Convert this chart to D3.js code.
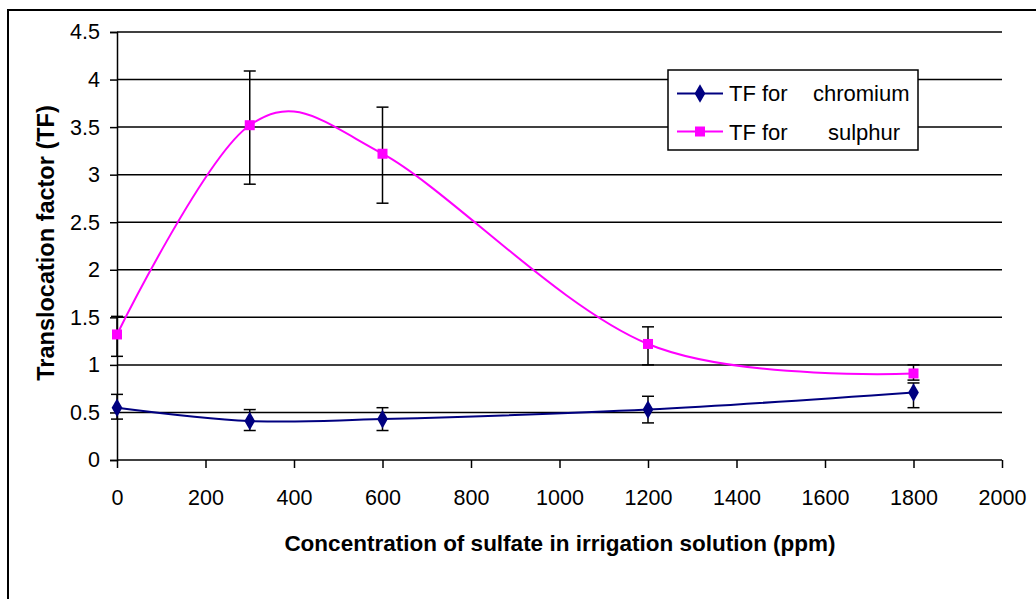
<!DOCTYPE html>
<html><head><meta charset="utf-8">
<script src="https://cdn.jsdelivr.net/npm/d3@7"></script>
<style>body{margin:0;background:#fff;} svg{display:block;font-family:Arial,"Liberation Sans",sans-serif;}</style>
</head><body><svg id="c" width="1036" height="599"></svg>
<script>
const concentrations = [0, 300, 600, 1200, 1800];
const chromium = [0.55, 0.41, 0.43, 0.53, 0.71];
const chromiumHi = [0.69, 0.53, 0.55, 0.67, 0.81];
const chromiumLo = [0.43, 0.31, 0.31, 0.39, 0.55];
const sulphur = [1.32, 3.52, 3.22, 1.22, 0.91];
const sulphurHi = [1.51, 4.09, 3.71, 1.40, 1.00];
const sulphurLo = [1.09, 2.90, 2.70, 1.00, 0.84];
const xTicks = [0, 200, 400, 600, 800, 1000, 1200, 1400, 1600, 1800, 2000];
const yTicks = [0, 0.5, 1, 1.5, 2, 2.5, 3, 3.5, 4, 4.5];
const seriesNames = ["TF for    chromium", "TF for      sulphur"];

const FONT = "Arial, 'Liberation Sans', sans-serif";
const svg = d3.select("#c");
const x = d3.scaleLinear().domain([0, 2000]).range([117, 1002]);
const y = d3.scaleLinear().domain([0, 4.5]).range([460, 32]);

// outer frame
svg.append("path").attr("d", "M8,620 L8,10 L1040,10").attr("fill","none").attr("stroke","#000").attr("stroke-width",2);

// gridlines
svg.append("g").selectAll("line").data(yTicks.filter(d=>d>0)).join("line")
  .attr("x1", x(0)).attr("x2", x(2000)).attr("y1", d=>y(d)).attr("y2", d=>y(d))
  .attr("stroke","#000").attr("stroke-width",1.5);

// axes
const yAxis = d3.axisLeft(y).tickValues(yTicks).tickSize(7).tickPadding(10).tickFormat(d=>String(d));
const gy = svg.append("g").attr("transform",`translate(${x(0)},0)`).call(yAxis);
const xAxis = d3.axisBottom(x).tickValues(xTicks).tickSize(8).tickPadding(22).tickFormat(d=>String(d));
const gx = svg.append("g").attr("transform",`translate(0,${y(0)})`).call(xAxis);
[gx, gy].forEach(g=>{
  g.select(".domain").attr("stroke","#000").attr("stroke-width",1.5);
  g.selectAll(".tick line").attr("stroke","#000").attr("stroke-width",1.5);
  g.selectAll(".tick text").attr("fill","#000").attr("font-size",21.5).attr("font-family",FONT);
});
gx.select(".domain").attr("d", `M${x(0)},0H${x(2000)}`);

// axis titles
svg.append("text").attr("x", 560).attr("y", 551).attr("text-anchor","middle")
  .attr("font-size",22.5).attr("font-weight","bold").text("Concentration of sulfate in irrigation solution (ppm)");
svg.append("text").attr("transform","translate(54,243) rotate(-90)").attr("text-anchor","middle")
  .attr("font-size",23.5).attr("font-weight","bold").text("Translocation factor (TF)");

const line = d3.line().x(d=>x(d[0])).y(d=>y(d[1])).curve(d3.curveCardinal.tension(0));

function errorBars(vals, hi, lo) {
  const g = svg.append("g").attr("stroke","#000").attr("stroke-width",1.5);
  concentrations.forEach((c,i)=>{
    g.append("line").attr("x1",x(c)).attr("x2",x(c)).attr("y1",y(hi[i])).attr("y2",y(lo[i]));
    g.append("line").attr("x1",x(c)-6).attr("x2",x(c)+6).attr("y1",y(hi[i])).attr("y2",y(hi[i]));
    g.append("line").attr("x1",x(c)-6).attr("x2",x(c)+6).attr("y1",y(lo[i])).attr("y2",y(lo[i]));
  });
}
errorBars(chromium, chromiumHi, chromiumLo);
errorBars(sulphur, sulphurHi, sulphurLo);

const crData = concentrations.map((c,i)=>[c, chromium[i]]);
const suData = concentrations.map((c,i)=>[c, sulphur[i]]);
svg.append("path").attr("d", line(crData)).attr("fill","none").attr("stroke","#000080").attr("stroke-width",2);
svg.append("path").attr("d", line(suData)).attr("fill","none").attr("stroke","#FF00FF").attr("stroke-width",2);

const diamond = d3.symbol().type(d3.symbolDiamond).size(100);
svg.append("g").selectAll("path").data(crData).join("path")
  .attr("d", diamond).attr("transform", d=>`translate(${x(d[0])},${y(d[1])})`).attr("fill","#000080");
svg.append("g").selectAll("rect").data(suData).join("rect")
  .attr("x", d=>x(d[0])-5).attr("y", d=>y(d[1])-5).attr("width",10).attr("height",10).attr("fill","#FF00FF");

// legend
const lg = svg.append("g");
lg.append("rect").attr("x",668).attr("y",70).attr("width",250).attr("height",80).attr("fill","#fff").attr("stroke","#000").attr("stroke-width",1.5);
const colors = ["#000080", "#FF00FF"];
[0,1].forEach(i=>{
  const cy = i===0 ? 93.5 : 131.5;
  const base = i===0 ? 101 : 140;
  lg.append("line").attr("x1",677).attr("x2",723).attr("y1",cy).attr("y2",cy).attr("stroke",colors[i]).attr("stroke-width",2);
  if (i===0) lg.append("path").attr("d", diamond).attr("transform",`translate(700,${cy})`).attr("fill",colors[i]);
  else lg.append("rect").attr("x",695).attr("y",cy-5).attr("width",10).attr("height",10).attr("fill",colors[i]);
  const parts = seriesNames[i].split(/\s+/);
  lg.append("text").attr("x",729).attr("y",base).attr("font-size",22).text(parts[0]+" "+parts[1]);
  lg.append("text").attr("x",i===0?813:828).attr("y",base).attr("font-size",22).text(parts[2]);
});
</script></body></html>
